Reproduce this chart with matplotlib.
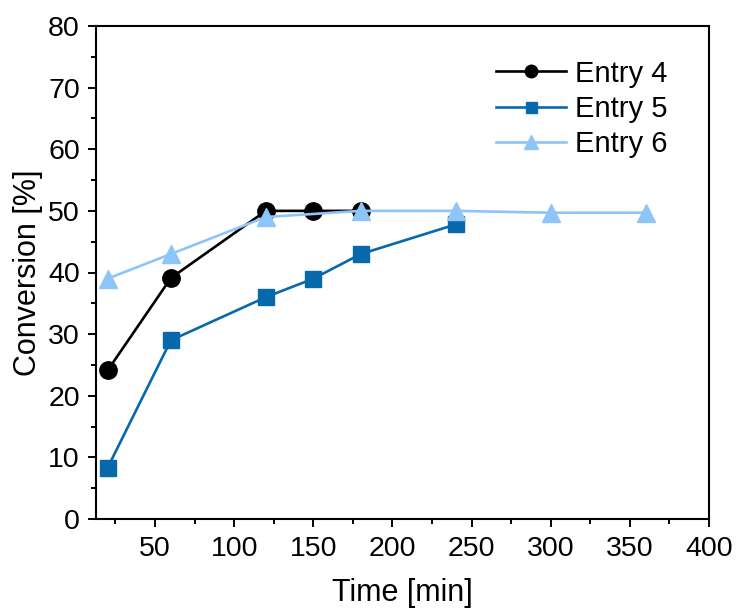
import matplotlib
matplotlib.use("Agg")
import matplotlib.pyplot as plt
from matplotlib.ticker import MultipleLocator

plt.rcParams['font.family'] = ['Liberation Sans', 'DejaVu Sans']

# Reaction conversion over time for three entries
t4 = [20, 60, 120, 150, 180]
conv4 = [24.1, 39.1, 50.0, 50.0, 50.0]

t5 = [20, 60, 120, 150, 180, 240]
conv5 = [8.3, 29.0, 36.0, 39.0, 43.0, 47.8]

t6 = [20, 60, 120, 180, 240, 300, 360]
conv6 = [39.0, 43.0, 49.0, 50.0, 50.0, 49.7, 49.7]

labels = ["Entry 4", "Entry 5", "Entry 6"]
colors = ["#000000", "#0868ac", "#8ec5f9"]

fig = plt.figure(figsize=(7.37, 6.12), dpi=100)
ax = fig.add_axes([96.5 / 737, 1 - 519 / 612, (709 - 96.5) / 737, (519 - 26) / 612])

ax.plot(t4, conv4, color=colors[0], marker='o', markersize=12.5, linewidth=1.9, label=labels[0])
ax.plot(t5, conv5, color=colors[1], marker='s', markersize=11, linewidth=1.9, label=labels[1])
ax.plot(t6, conv6, color=colors[2], marker='^', markersize=13.5, linewidth=1.9, label=labels[2])

ax.set_xlim(13, 400)
ax.set_ylim(0, 80)
ax.set_xticks([50, 100, 150, 200, 250, 300, 350, 400])
ax.xaxis.set_minor_locator(MultipleLocator(25))
ax.yaxis.set_major_locator(MultipleLocator(10))
ax.yaxis.set_minor_locator(MultipleLocator(5))

ax.tick_params(which='major', direction='out', length=6, width=1.4, labelsize=20.5, pad=6)
ax.tick_params(which='minor', direction='out', length=3.5, width=1.4)
for s in ax.spines.values():
    s.set_linewidth(1.5)

ax.set_xlabel("Time [min]", fontsize=22, labelpad=12)
ax.set_ylabel("Conversion [%]", fontsize=22, labelpad=4)

leg = ax.legend(loc='upper right', frameon=False, fontsize=21, handlelength=2.4,
                handletextpad=0.3, labelspacing=0.25, markerscale=0.72,
                bbox_to_anchor=(0.975, 0.985))

fig.savefig("out.png", dpi=100)
